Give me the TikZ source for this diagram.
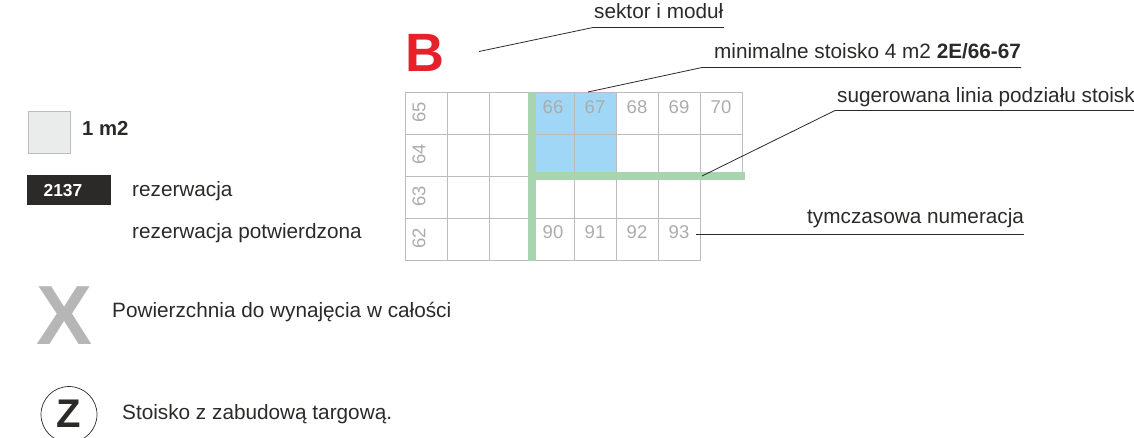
\documentclass[tikz,border=0pt]{standalone}
\usepackage{fontspec}
\setmainfont{Liberation Sans}
\definecolor{ink}{HTML}{2B2A29}
\definecolor{gridc}{HTML}{BBBCBB}
\definecolor{numc}{HTML}{ABACAB}
\definecolor{bluec}{HTML}{A0D7F6}
\definecolor{greenc}{HTML}{A8D5B0}
\definecolor{redc}{HTML}{E52229}
\definecolor{sq}{HTML}{EAECEB}
\definecolor{xc}{HTML}{B5B6B5}
\tikzset{
  lab/.style={anchor=base west,inner sep=0pt,text=ink,font=\fontsize{20.75}{24}\selectfont},
  num/.style={inner sep=0pt,text=numc,font=\fontsize{18.5}{20}\selectfont},
  cellbox/.style={draw=gridc,line width=1pt,minimum width=42pt,minimum height=42pt,inner sep=0pt,anchor=north west,xshift=0.4pt,yshift=-0.4pt},
  lead/.style={draw=ink,line width=0.8pt},
  bar/.style={fill=greenc,draw=none}
}
\begin{document}
\begin{tikzpicture}[x=1pt,y=-1pt]
\useasboundingbox (0,0) rectangle (1134,437);
\clip (0,0) rectangle (1134,437);
% blue stand
\fill[bluec] (532,92) rectangle (616,176);
% grid
\foreach \r/\yy in {0/92,1/134,2/176,3/218}{
  \foreach \c/\xx in {0/405,1/447,2/489,3/532,4/574,5/616,6/658}{
    \node[cellbox] (c\r\c) at (\xx,\yy) {};
  }
}
\node[cellbox] (c07) at (700,92) {};
\node[cellbox] (c17) at (700,134) {};
% green bars
\fill[bar] (528,92) rectangle (535.5,261);
\fill[bar] (528,172.3) rectangle (744.5,180);
% numbers
\node[num] (n66) at (553,107) {66};
\node[num] (n67) at (595,107) {67};
\node[num] (n68) at (637,107) {68};
\node[num] (n69) at (679,107) {69};
\node[num] (n70) at (721,107) {70};
\node[num] (n90) at (553,232.5) {90};
\node[num] (n91) at (595,232.5) {91};
\node[num] (n92) at (637,232.5) {92};
\node[num] (n93) at (679,232.5) {93};
\node[num,rotate=90] (n65) at (419,112.5) {65};
\node[num,rotate=90] (n64) at (419,154.5) {64};
\node[num,rotate=90] (n63) at (419,196.5) {63};
\node[num,rotate=90] (n62) at (419,238.5) {62};
% big letters
\node[anchor=base,inner sep=0pt,text=redc,font=\fontsize{54}{54}\selectfont\bfseries] (b) at (425,71) {B};
\node[anchor=base,inner sep=0pt,text=xc,font=\fontsize{84}{84}\selectfont\bfseries] (x) at (64.5,344.5) {X};
\node[draw=ink,line width=0.7pt,circle,minimum size=56pt,inner sep=0pt] (zc) at (69,414.5) {};
\node[anchor=base,inner sep=0pt,text=ink,font=\fontsize{40}{40}\selectfont\bfseries] (z) at (69,427.5) {Z};
% legend
\node[cellbox,fill=sq,line width=1pt] (unit) at (27.5,111) {};
\node[lab,font=\fontsize{20.3}{24}\selectfont\bfseries] (unitl) at (82,135) {1 m2};
\node[fill=ink,minimum width=84pt,minimum height=30pt,inner sep=0pt,anchor=north west] (res) at (27,175) {};
\node[anchor=base,inner sep=0pt,text=white,font=\fontsize{17.4}{20}\selectfont\bfseries] (resn) at (63,196) {2137};
\node[lab] (resl) at (132,196) {rezerwacja};
\node[lab] (conf) at (132,238.5) {rezerwacja potwierdzona};
\node[lab] (pow) at (112,317) {Powierzchnia do wynajęcia w całości};
\node[lab] (sto) at (122,419) {Stoisko z zabudową targową.};
% callouts
\node[lab] (t1) at (594,18) {sektor i moduł};
\node[lab] (t2) at (714,58) {minimalne stoisko 4 m2 \textbf{2E/66-67}};
\node[lab] (t3) at (837,102) {sugerowana linia podziału stoisk};
\node[lab] (t4) at (807,223) {tymczasowa numeracja};
\coordinate (a1) at (479,51.5); \coordinate (a2) at (593,27.5); \coordinate (a3) at (724,27.5);
\coordinate (b1) at (588,92); \coordinate (b2) at (702,67.5); \coordinate (b3) at (1021,67.5);
\coordinate (c1) at (702,176); \coordinate (c2) at (835,110.5); \coordinate (c3) at (1134,110.5);
\coordinate (d1) at (696,234.5); \coordinate (d3) at (1024,234.5);
\draw[lead] (a1) -- (a2) -- (a3);
\draw[lead] (b1) -- (b2) -- (b3);
\draw[lead] (c1) -- (c2) -- (c3);
\draw[lead] (d1) -- (d3);
\end{tikzpicture}
\end{document}
